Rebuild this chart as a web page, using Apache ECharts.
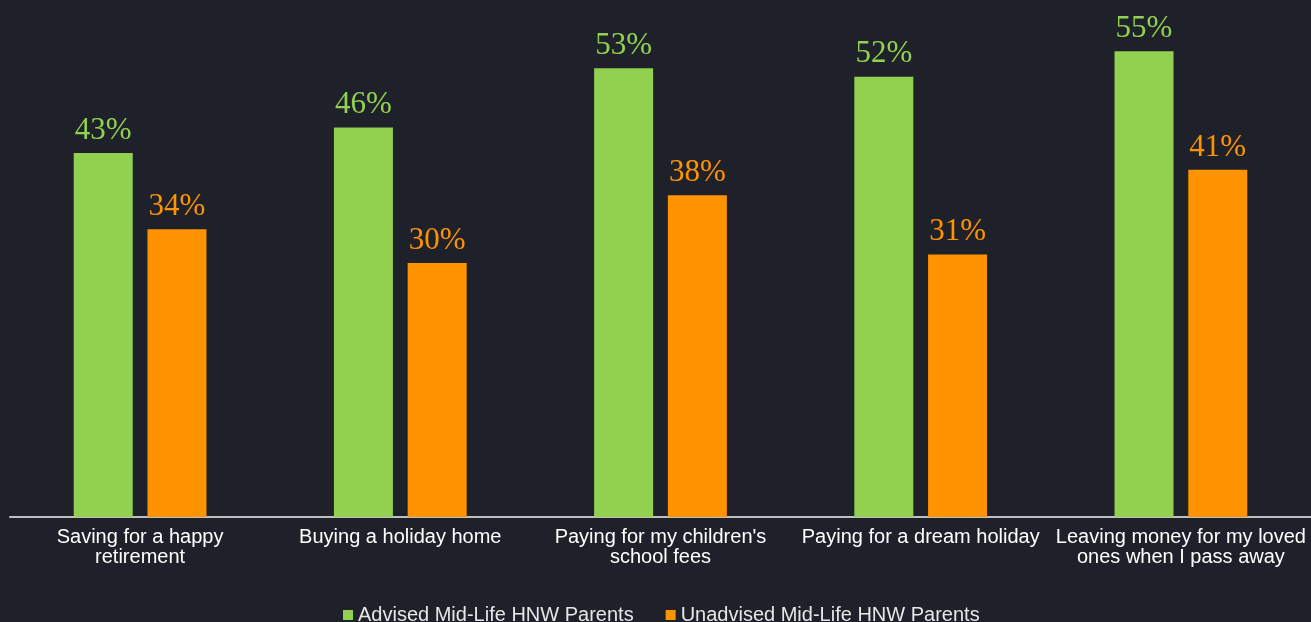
<!DOCTYPE html>
<html><head><meta charset="utf-8">
<script src="https://cdn.jsdelivr.net/npm/echarts@6/dist/echarts.min.js"></script>
<style>html,body{margin:0;padding:0;background:#1e2129;}#c{width:1311px;height:622px;}</style>
</head><body><div id="c"></div>
<script>
const categories = ["Saving for a happy\nretirement","Buying a holiday home","Paying for my children's\nschool fees","Paying for a dream holiday","Leaving money for my loved\nones when I pass away"];
const seriesNames = ["Advised Mid-Life HNW Parents","Unadvised Mid-Life HNW Parents"];
const advised = [43,46,53,52,55];
const unadvised = [34,30,38,31,41];
const colors = ["#92d050","#ff9300"];
const chart = echarts.init(document.getElementById('c'));
function mk(name, data, color){
  return {name, type:'bar', data, barWidth:59, barGap:'25%',
    itemStyle:{color},
    label:{show:true, position:'top', distance:7, color, fontFamily:'Liberation Serif', fontSize:31, formatter:'{c}%'}};
}
chart.setOption({
  backgroundColor:'#1e2129',
  animation:false,
  grid:{left:10,right:0,top:9,bottom:105},
  legend:{top:600,left:338,itemWidth:10,itemHeight:10,itemGap:32,icon:'rect',
    textStyle:{color:'#e6e6e6',fontFamily:'Liberation Sans',fontSize:20},
    data:seriesNames},
  xAxis:{type:'category',data:categories,
    axisLine:{lineStyle:{color:'#bfbfbf',width:2}},axisTick:{show:false},
    axisLabel:{color:'#ffffff',fontFamily:'Liberation Sans',fontSize:20,lineHeight:20,margin:10,interval:0}},
  yAxis:{type:'value',min:0,max:60,show:false,splitLine:{show:false}},
  series:[mk(seriesNames[0],advised,colors[0]),mk(seriesNames[1],unadvised,colors[1])]
});
</script></body></html>
